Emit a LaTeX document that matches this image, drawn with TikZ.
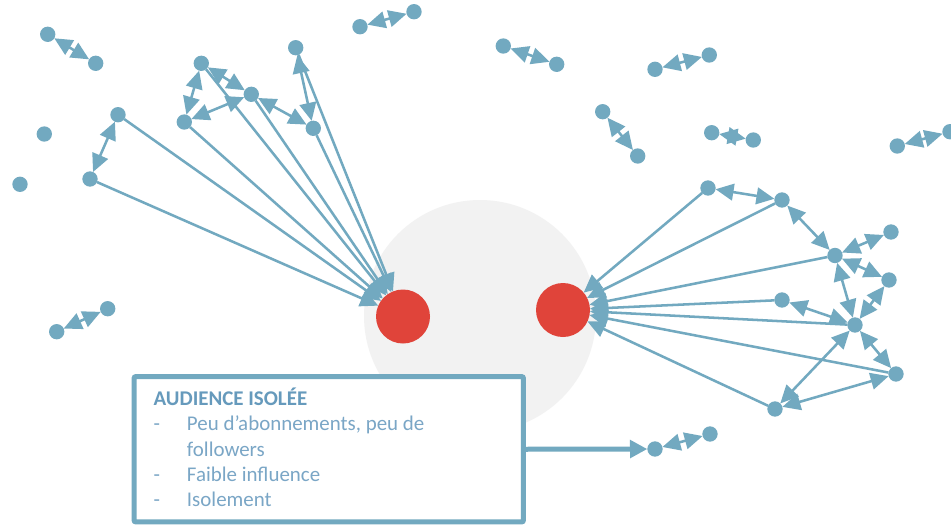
\documentclass[tikz,border=0pt]{standalone}
\usepackage{fontspec}
\setmainfont{Carlito}
\usetikzlibrary{arrows.meta}
\definecolor{nb}{RGB}{114,169,192}
\definecolor{rd}{RGB}{224,68,58}
\definecolor{gr}{RGB}{242,242,242}
\definecolor{tt}{RGB}{102,154,188}
\definecolor{ti}{RGB}{122,166,198}
\begin{document}
\begin{tikzpicture}[x=0.75pt,y=-0.75pt,
  dot/.style={circle,fill=nb,minimum size=11.5pt,inner sep=0pt,outer sep=0pt},
  hub/.style={circle,fill=rd,minimum size=40.5pt,inner sep=0pt,outer sep=0pt},
  link/.style={draw=nb,line width=1.9pt,-{Triangle[length=13.5pt,width=12.5pt]}},
  both/.style={draw=nb,line width=1.9pt,{Triangle[length=13.5pt,width=12.5pt]}-{Triangle[length=13.5pt,width=12.5pt]}},
  txt/.style={anchor=base west,inner sep=0pt,font=\fontsize{15.7}{18}\selectfont}
]
\fill[white] (0,0) rectangle (951,526);
\useasboundingbox (0,0) rectangle (951,526);

% halo
\node[circle,fill=gr,minimum size=174pt,inner sep=0pt] (halo) at (480,316) {};

% hubs
\node[hub] (hl) at (403,316.5) {};
\node[hub] (hr) at (563,310) {};

% dots
\node[dot] (a1) at (47.7,34.3) {};
\node[dot] (a2) at (95.7,63.3) {};
\node[dot] (s1) at (44.3,134) {};
\node[dot] (s2) at (20,184.3) {};
\node[dot] (b1) at (118,114.7) {};
\node[dot] (b2) at (90,179) {};
\node[dot] (c1) at (201.3,63.3) {};
\node[dot] (c2) at (251.3,94.3) {};
\node[dot] (c3) at (184.3,122) {};
\node[dot] (d1) at (295.7,47.7) {};
\node[dot] (d2) at (313.3,128.3) {};
\node[dot] (e1) at (360,26.7) {};
\node[dot] (e2) at (414,11.7) {};
\node[dot] (f1) at (503.3,46) {};
\node[dot] (f2) at (556.7,64.3) {};
\node[dot] (g1) at (655,69.3) {};
\node[dot] (g2) at (709.3,55) {};
\node[dot] (h1) at (602.7,111.7) {};
\node[dot] (h2) at (637.7,156) {};
\node[dot] (i1) at (711.7,132.7) {};
\node[dot] (i2) at (753.3,140) {};
\node[dot] (j1) at (897.3,146) {};
\node[dot] (j2) at (950,131.7) {};
\node[dot] (k1) at (56.7,331.7) {};
\node[dot] (k2) at (107.7,308.7) {};
\node[dot] (l1) at (655,449) {};
\node[dot] (l2) at (710,434) {};

\node[dot] (r1) at (708,188) {};
\node[dot] (r2) at (782,200) {};
\node[dot] (r3) at (835,255.5) {};
\node[dot] (r4) at (891,232) {};
\node[dot] (r5) at (889,280) {};
\node[dot] (r6) at (782,300) {};
\node[dot] (r7) at (855,325) {};
\node[dot] (r8) at (896,374) {};
\node[dot] (r9) at (775,409) {};

% pairs
\draw[both] (a1) -- (a2);
\draw[both] (b1) -- (b2);
\draw[both] (c1) -- (c2);
\draw[both] (c1) -- (c3);
\draw[both] (c3) -- (c2);
\draw[both] (d1) -- (d2);
\draw[both] (c2) -- (d2);
\draw[both] (e1) -- (e2);
\draw[both] (f1) -- (f2);
\draw[both] (g1) -- (g2);
\draw[both] (h1) -- (h2);
\draw[both] (i1) -- (i2);
\draw[both] (j1) -- (j2);
\draw[both] (k1) -- (k2);
\draw[both] (l1) -- (l2);

% left hub links
\foreach \n in {b1,b2,c1,c2,c3,d1,d2} \draw[link] (\n) -- (hl);

% right cluster
\draw[both] (r1) -- (r2);
\draw[both] (r2) -- (r3);
\draw[both] (r3) -- (r4);
\draw[both] (r3) -- (r5);
\draw[both] (r3) -- (r7);
\draw[both] (r5) -- (r7);
\draw[both] (r6) -- (r7);
\draw[both] (r7) -- (r8);
\draw[both] (r7) -- (r9);
\draw[both] (r9) -- (r8);
\foreach \n in {r1,r2,r3,r6,r7,r8,r9} \draw[link] (\n) -- (hr);

% box
\node[draw=nb,line width=3.75pt,fill=white,rounded corners=1.5pt,minimum width=292.1pt,minimum height=109.1pt,inner sep=0pt,outer sep=0pt] (box) at (328.75,449.25) {};
\draw[draw=nb,line width=3.75pt,-{Triangle[length=13pt,width=13pt]}] (box.east) -- (l1);

\node[txt,text=tt,font=\fontsize{15.7}{18}\selectfont\bfseries] (t0) at (153.3,405.7) {AUDIENCE ISOLÉE};
\node[txt,text=ti] (m1) at (153.3,430.7) {-};
\node[txt,text=ti] (t1) at (186.7,430.7) {Peu d’abonnements, peu de};
\node[txt,text=ti] (t2) at (186.7,456) {followers};
\node[txt,text=ti] (m3) at (153.3,481.7) {-};
\node[txt,text=ti] (t3) at (186.7,481.7) {Faible influence};
\node[txt,text=ti] (m4) at (153.3,506.7) {-};
\node[txt,text=ti] (t4) at (186.7,506.7) {Isolement};
\end{tikzpicture}
\end{document}
